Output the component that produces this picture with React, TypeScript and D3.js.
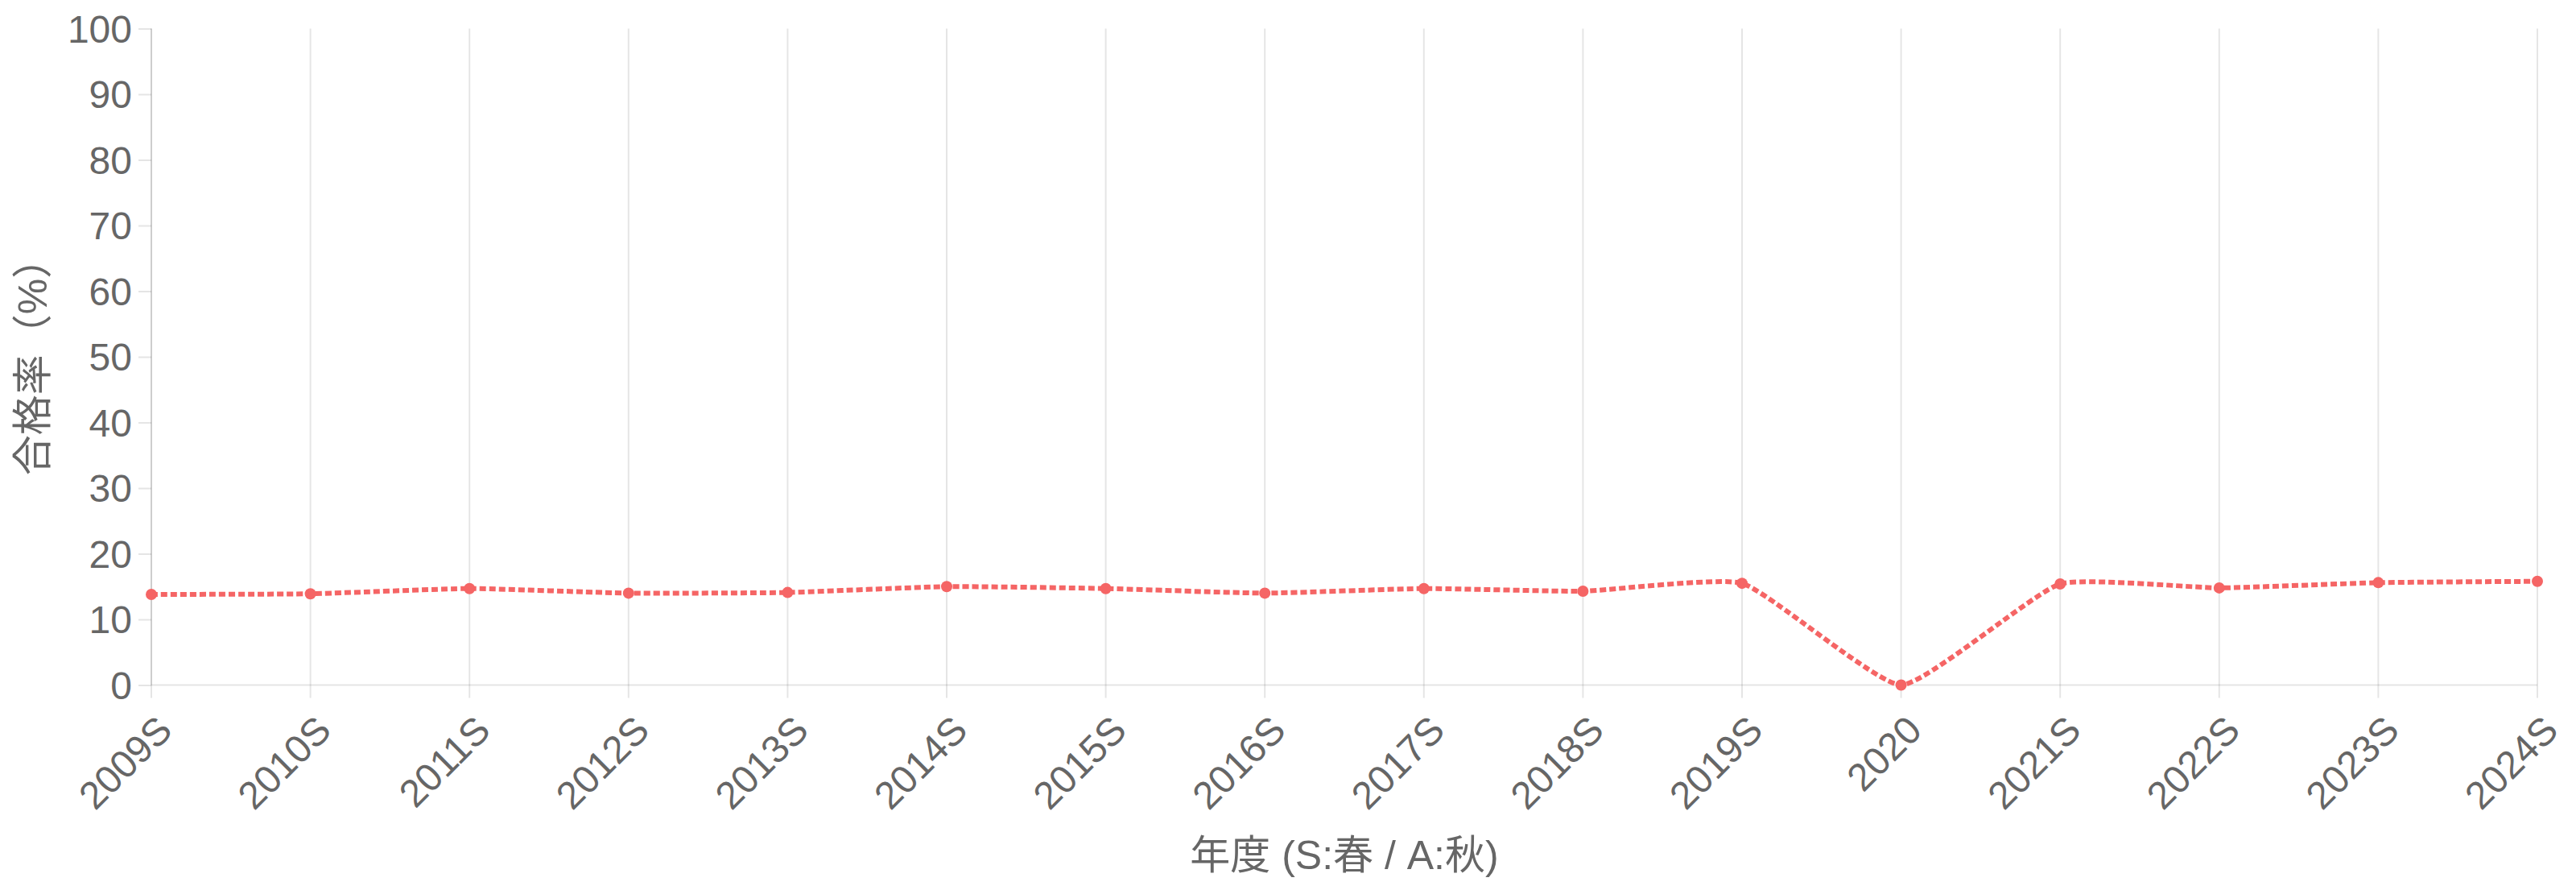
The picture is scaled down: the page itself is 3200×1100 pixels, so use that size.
import React, { useEffect, useRef } from "react"
import * as d3 from "d3"

// 年度ラベル（S:春 / A:秋）
const years: string[] = [
  "2009S", "2010S", "2011S", "2012S", "2013S", "2014S", "2015S", "2016S",
  "2017S", "2018S", "2019S", "2020", "2021S", "2022S", "2023S", "2024S",
]

// 合格率（%）
const passRates: number[] = [
  13.8, 13.9, 14.7, 14.0, 14.1, 15.0, 14.7, 14.0,
  14.7, 14.3, 15.5, 0, 15.4, 14.8, 15.6, 15.8,
]

const yTicks: number[] = [0, 10, 20, 30, 40, 50, 60, 70, 80, 90, 100]

const xTitle = "年度 (S:春 / A:秋)"
const yTitle = "合格率（%）"

const W = 3200
const H = 1100
const LINE = "#f56565"
const GRID = "rgba(0,0,0,0.1)"
const TEXT = "#666666"
const FONT = "'Liberation Sans', Arial, 'Noto Sans CJK JP', sans-serif"

// Chart.js style spline, control points kept inside the plot area
function splinePath(pts: [number, number][], t: number, yMin: number, yMax: number) {
  const cps = pts.map((p, i) => {
    const p0 = pts[i - 1] || p
    const p2 = pts[i + 1] || p
    const d01 = Math.hypot(p[0] - p0[0], p[1] - p0[1])
    const d12 = Math.hypot(p2[0] - p[0], p2[1] - p[1])
    let s01 = d01 / (d01 + d12)
    let s12 = d12 / (d01 + d12)
    if (isNaN(s01)) s01 = 0
    if (isNaN(s12)) s12 = 0
    const fa = t * s01
    const fb = t * s12
    const clampY = (v: number) => Math.max(yMin, Math.min(yMax, v))
    return {
      prev: [p[0] - fa * (p2[0] - p0[0]), clampY(p[1] - fa * (p2[1] - p0[1]))],
      next: [p[0] + fb * (p2[0] - p0[0]), clampY(p[1] + fb * (p2[1] - p0[1]))],
    }
  })
  const path = d3.path()
  pts.forEach((p, i) => {
    if (i === 0) path.moveTo(p[0], p[1])
    else path.bezierCurveTo(cps[i - 1].next[0], cps[i - 1].next[1], cps[i].prev[0], cps[i].prev[1], p[0], p[1])
  })
  return path.toString()
}

function PassRateChart() {
  const svgRef = useRef<SVGSVGElement>(null)

  useEffect(() => {
    if (!svgRef.current) return
    const svg = d3.select(svgRef.current)
    svg.selectAll("*").remove()

    const left = 188
    const right = 3152
    const top = 35.5
    const bottom = 850.5
    const tick = 16

    const x = d3.scalePoint<string>().domain(years).range([left, right])
    const y = d3.scaleLinear().domain([0, 100]).range([bottom, top])

    // vertical grid lines (extend below the axis as tick marks)
    svg.append("g")
      .selectAll("line")
      .data(years)
      .enter()
      .append("line")
      .attr("x1", d => x(d) || 0)
      .attr("x2", d => x(d) || 0)
      .attr("y1", top)
      .attr("y2", bottom + tick)
      .attr("stroke", GRID)
      .attr("stroke-width", 2)

    // y axis
    const yAxis = svg.append("g")
      .attr("transform", `translate(${left},0)`)
      .call(d3.axisLeft(y).tickValues(yTicks).tickSize(tick).tickPadding(8))
    yAxis.select(".domain").attr("stroke", GRID).attr("stroke-width", 2).attr("d", `M0,${top}V${bottom}`)
    yAxis.selectAll(".tick line").attr("stroke", GRID).attr("stroke-width", 2)
    yAxis.selectAll(".tick text")
      .attr("fill", TEXT)
      .attr("font-size", "48px")
      .attr("font-family", FONT)
      .attr("dy", "0.35em")

    // x axis
    const xAxis = svg.append("g")
      .attr("transform", `translate(0,${bottom})`)
      .call(d3.axisBottom(x).tickSize(0).tickPadding(0))
    xAxis.select(".domain").attr("stroke", GRID).attr("stroke-width", 2).attr("d", `M${left},0H${right}`)
    xAxis.selectAll(".tick text")
      .attr("fill", TEXT)
      .attr("font-size", "48px")
      .attr("font-family", FONT)
      .attr("text-anchor", "end")
      .attr("x", 0)
      .attr("y", 0)
      .attr("dy", "0.35em")
      .attr("transform", "translate(16,47) rotate(-45)")

    // line
    const pts: [number, number][] = years.map((d, i) => [x(d) || 0, y(passRates[i])])
    svg.append("path")
      .attr("d", splinePath(pts, 0.15, top, bottom))
      .attr("fill", "none")
      .attr("stroke", LINE)
      .attr("stroke-width", 6)
      .attr("stroke-dasharray", "8 4")

    // points
    svg.append("g")
      .selectAll("circle")
      .data(passRates)
      .enter()
      .append("circle")
      .attr("cx", (d, i) => x(years[i]) || 0)
      .attr("cy", d => y(d))
      .attr("r", 7)
      .attr("fill", LINE)

    // axis titles
    svg.append("text")
      .attr("x", (left + right) / 2)
      .attr("y", 1062)
      .attr("text-anchor", "middle")
      .attr("dominant-baseline", "central")
      .attr("fill", TEXT)
      .attr("font-size", "50px")
      .attr("font-family", FONT)
      .text(xTitle)

    svg.append("text")
      .attr("transform", `translate(41,${(top + bottom) / 2}) rotate(-90)`)
      .attr("text-anchor", "middle")
      .attr("dominant-baseline", "central")
      .attr("fill", TEXT)
      .attr("font-size", "50px")
      .attr("font-family", FONT)
      .text(yTitle)
  }, [])

  return (
    <svg
      ref={svgRef}
      width={W}
      height={H}
      style={{ position: "absolute", left: 0, top: 0, background: "#fff" }}
    />
  )
}

export default function App() {
  return <PassRateChart />
}
